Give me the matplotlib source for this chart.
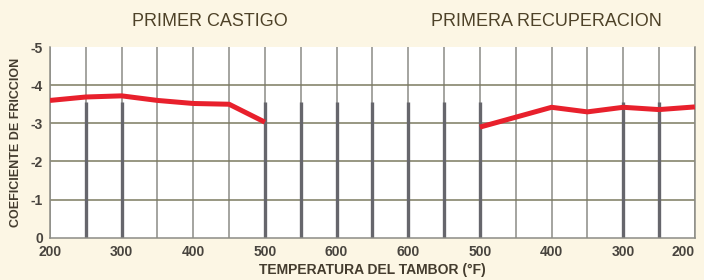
#!/usr/bin/env python3
"""
Coeficiente de friccion vs temperatura del tambor
(primer castigo / primera recuperacion)
"""

import matplotlib.pyplot as plt

plt.rcParams['font.family'] = ['Liberation Sans Narrow', 'Liberation Sans', 'DejaVu Sans']

# Temperature axis: 19 positions (every 50 °F), labels every 100 °F
temp_labels = ['200', '300', '400', '500', '600', '600', '500', '400', '300', '200']

# Primer castigo (heating run), positions 0..6
castigo_pos = [0, 1, 2, 3, 4, 5, 6]
castigo_val = [-3.6, -3.69, -3.72, -3.6, -3.52, -3.5, -3.03]

# Primera recuperacion (cooling run), positions 12..18
recup_pos = [12, 13, 14, 15, 16, 17, 18]
recup_val = [-2.9, -3.16, -3.42, -3.3, -3.42, -3.36, -3.43]

# positions with heavy vertical bars under the curves
bar_pos = [1, 2, 6, 7, 8, 9, 10, 11, 12, 16, 17]
bar_top = -3.55

fig = plt.figure(figsize=(7.04, 2.8), dpi=100, facecolor='#fcf6e4')
ax = fig.add_axes([0.071, 0.151, 0.916, 0.681])
ax.set_facecolor('white')

# grid
for i in range(19):
    ax.axvline(i, color='#8c8c86', lw=1.1, zorder=1)
for v in [-1, -2, -3, -4]:
    ax.axhline(v, color='#7c7a60', lw=1.1, zorder=1)
ax.vlines(bar_pos, 0, bar_top, color='#66666c', lw=2.4, zorder=2)

# curves
ax.plot(castigo_pos, castigo_val, color='#e8202c', lw=3.6, solid_capstyle='butt', zorder=3)
ax.plot(recup_pos, recup_val, color='#e8202c', lw=3.6, solid_capstyle='butt', zorder=3)

ax.set_xlim(0, 18)
ax.set_ylim(0, -5)
ax.set_xticks(range(0, 19, 2))
ax.set_xticklabels(temp_labels)
ax.set_yticks([0, -1, -2, -3, -4, -5])
ax.set_yticklabels(['0', '-1', '-2', '-3', '-4', '-5'])
ax.tick_params(length=0, labelsize=10, colors='#48443e', pad=5)
for lbl in ax.get_xticklabels() + ax.get_yticklabels():
    lbl.set_fontweight('bold')
ax.get_xticklabels()[-1].set_ha('right')

for s in ax.spines.values():
    s.set_color('#8c8c86')
    s.set_linewidth(1.1)
ax.spines['top'].set_visible(False)

ax.set_ylabel('COEFICIENTE DE FRICCION', fontsize=9, fontweight='bold',
              color='#443c2e', labelpad=6)
ax.set_xlabel('TEMPERATURA DEL TAMBOR (°F)', fontsize=10, fontweight='bold',
              color='#443c2e', labelpad=3)

fig.text(210 / 704, 1 - 21 / 280, 'PRIMER CASTIGO', ha='center', va='center',
         fontsize=13, color='#4e4228', family=['Liberation Sans', 'DejaVu Sans'])
fig.text(546 / 704, 1 - 21 / 280, 'PRIMERA RECUPERACION', ha='center', va='center',
         fontsize=13, color='#4e4228', family=['Liberation Sans', 'DejaVu Sans'])

plt.savefig('out.png', dpi=100, facecolor=fig.get_facecolor())
